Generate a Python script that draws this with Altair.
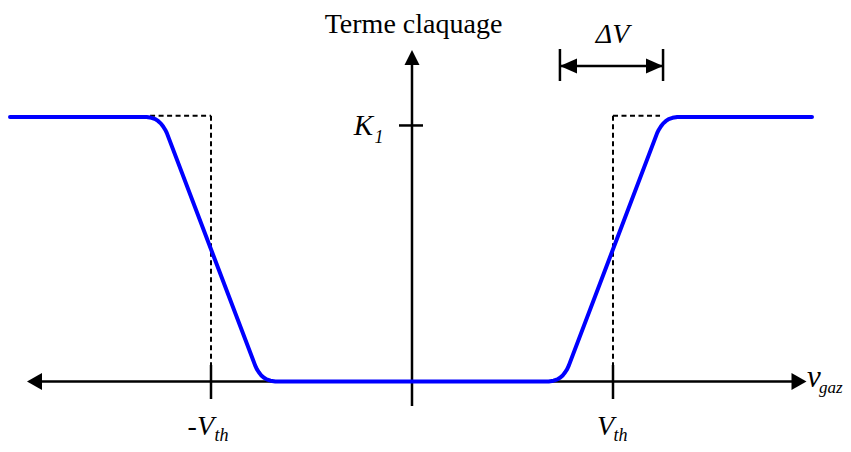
import altair as alt
import pandas as pd

# ---------------- data (Vth = 1, K1 plateau = 1) ----------------
curve_x = [-2.0, -1.32, -1.296, -1.277, -1.262, -1.249, -1.238, -1.228, -1.22,
           -0.78, -0.772, -0.762, -0.751, -0.738, -0.723, -0.704, -0.68,
           0.68, 0.704, 0.723, 0.738, 0.751, 0.762, 0.772, 0.78,
           1.22, 1.228, 1.238, 1.249, 1.262, 1.277, 1.296, 1.32, 1.99]
curve_y = [1.0, 1.0, 0.997, 0.992, 0.984, 0.975, 0.964, 0.952, 0.94,
           0.06, 0.047, 0.035, 0.024, 0.015, 0.008, 0.003, 0.0,
           0.0, 0.003, 0.008, 0.015, 0.024, 0.035, 0.047, 0.06,
           0.94, 0.952, 0.964, 0.975, 0.984, 0.992, 0.997, 1.0, 1.0]

vth = 1.0
k1_tick = 0.968
delta_v = [0.736, 1.249]

# axis extents
x_axis = [-1.87, 1.92]
y_axis = [-0.0926, 1.22]

# dashed ideal step outline
dash_x = [-1.303, -1.0, 1.0, 1.234]
dash_top = 1.005
dash_bottom = 0.0624

XD = [-2.00995, 2.14428]
YD = [-0.23629, 1.41210]
xs = alt.Scale(domain=XD, nice=False, zero=False)
ys = alt.Scale(domain=YD, nice=False, zero=False)


def X(f):
    return alt.X(f, type="quantitative", scale=xs, axis=None)


def Y(f):
    return alt.Y(f, type="quantitative", scale=ys, axis=None)


# ---------------- layers ----------------
axes_df = pd.DataFrame({
    "x": [x_axis[0], 0.0, -0.0647, -vth, vth, delta_v[0], delta_v[0], delta_v[1]],
    "x2": [x_axis[1], 0.0, 0.0547, -vth, vth, delta_v[1], delta_v[0], delta_v[1]],
    "y": [0.0, y_axis[0], k1_tick, 0.0624, 0.0624, 1.1928, 1.2571, 1.2571],
    "y2": [0.0, y_axis[1], k1_tick, -0.0662, -0.0662, 1.1928, 1.1362, 1.1362],
})
axes = alt.Chart(axes_df).mark_rule(color="black", strokeWidth=2.5).encode(
    x=X("x"), x2="x2", y=Y("y"), y2="y2")

dash_df = pd.DataFrame({
    "x": [dash_x[0], dash_x[1], dash_x[2], dash_x[2]],
    "x2": [dash_x[1], dash_x[1], dash_x[3], dash_x[2]],
    "y": [dash_top, dash_top, dash_top, dash_top],
    "y2": [dash_top, dash_bottom, dash_top, dash_bottom],
})
dashed = alt.Chart(dash_df).mark_rule(color="black", strokeWidth=2, strokeDash=[5, 3.5]).encode(
    x=X("x"), x2="x2", y=Y("y"), y2="y2")

curve = alt.Chart(pd.DataFrame({"x": curve_x, "y": curve_y})).mark_line(
    color="#0000ff", strokeWidth=4, interpolate="linear", strokeCap="round", strokeJoin="round"
).encode(x=X("x"), y=Y("y"), order="x:Q")


def head(xv, yv, path, size):
    return alt.Chart(pd.DataFrame({"x": [xv], "y": [yv]})).mark_point(
        shape=path, size=size, filled=True, color="black", opacity=1, strokeWidth=0
    ).encode(x=X("x"), y=Y("y"))


heads = [
    head(-1.8781, 0.0, "M0.882,-1L-0.882,0L0.882,1Z", 289),
    head(1.9254, 0.0, "M-0.882,-1L0.882,0L-0.882,1Z", 289),
    head(0.0, 1.2250, "M-1,1L0,-1L1,1Z", 225),
    head(0.7786, 1.1928, "M1,-0.882L-1,0L1,0.882Z", 289),
    head(1.2065, 1.1928, "M-1,-0.882L1,0L-1,0.882Z", 289),
]


def label(xv, yv, txt, size, align, style="italic", font="Liberation Serif"):
    return alt.Chart(pd.DataFrame({"x": [xv], "y": [yv], "t": [txt]})).mark_text(
        font=font, fontSize=size, fontStyle=style, align=align, baseline="alphabetic", color="black"
    ).encode(x=X("x"), y=Y("y"), text="t:N")


labels = [
    label(0.0075, 1.3176, "Terme claquage", 28, "center", style="normal"),
    label(0.9975, 1.2798, "ΔV", 28, "center"),
    label(-0.194, 0.9319, "K", 29, "right"),
    label(-0.187, 0.9017, "1", 18, "left"),
    label(-0.985, -0.2023, "-V", 28, "right"),
    label(-0.983, -0.2250, "th", 18, "left"),
    label(1.005, -0.2023, "V", 28, "right"),
    label(1.002, -0.2250, "th", 18, "left"),
    label(1.965, -0.0208, "v", 31, "left"),
    label(2.0249, -0.0435, "gaz", 17, "left"),
]

chart = alt.layer(axes, dashed, curve, *heads, *labels).properties(
    width=835, height=436, padding=0, autosize=alt.AutoSizeParams(type="none")
).configure_view(strokeWidth=0)

chart.save("out.html", embed_options={"renderer": "svg", "actions": False})
